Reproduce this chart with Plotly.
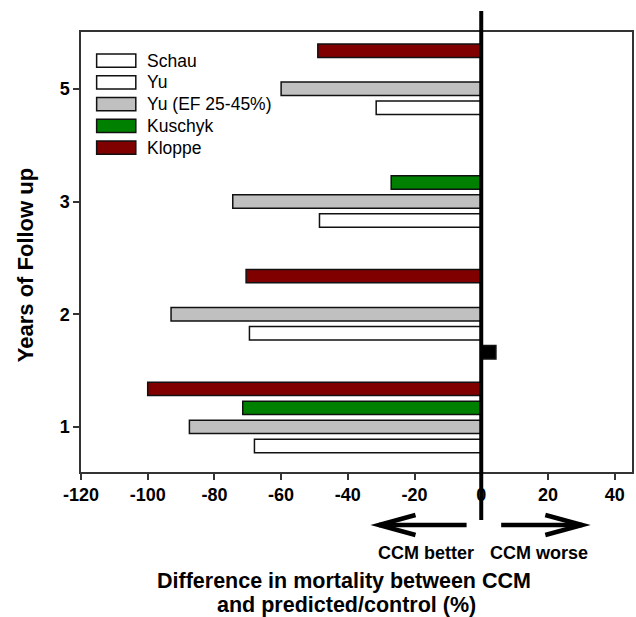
import plotly.graph_objects as go

# ---- data ----
years = ["1", "2", "3", "5"]
series_names = ["Schau", "Yu", "Yu (EF 25-45%)", "Kuschyk", "Kloppe"]
schau = [None, 4.4, None, None]
yu = [-68, -69.5, -48.5, -31.5]
yu_ef = [-87.5, -93, -74.5, -60]
kuschyk = [-71.5, None, -27, None]
kloppe = [-100, -70.5, None, -49]
series_values = [schau, yu, yu_ef, kuschyk, kloppe]
legend_colors = ["white", "white", "#c0c0c0", "#008000", "#800000"]
bar_colors = ["black", "white", "#c0c0c0", "#008000", "#800000"]
x_ticks = [-120, -100, -80, -60, -40, -20, 0, 20, 40]
x_ticktext = ["-120", "-100", "-80", "-60", "-40", "-20", "0", "20", "40"]

FONT = "Liberation Sans, Arial, sans-serif"
W, H = 636, 617
L, R, T, B = 81, 2, 32, 145
x_range = [-120, 45.2]
plot_w = W - L - R
plot_h = H - T - B

def px_to_x(px):
    return x_range[0] + (px - L) / plot_w * (x_range[1] - x_range[0])

def py_to_paper(py):
    return (H - B - py) / plot_h

def px_to_paper(px):
    return (px - L) / plot_w

fig = go.Figure()
for name, vals, col in zip(series_names, series_values, bar_colors):
    fig.add_trace(go.Bar(
        y=years, x=vals, orientation="h", name=name,
        marker=dict(color=col, line=dict(color="#111111", width=1.5)),
        showlegend=False, hoverinfo="x+name",
    ))

shapes = []
# thick zero line extending beyond plot
shapes.append(dict(type="line", xref="x", yref="paper", x0=0, x1=0,
                   y0=py_to_paper(520), y1=py_to_paper(11),
                   line=dict(color="black", width=4), layer="above"))

# arrows
ys = py_to_paper(525)
yw1 = py_to_paper(515)
yw2 = py_to_paper(535)
lx0, ltip, lw = px_to_x(468), px_to_x(380), px_to_x(416.7)
rx0, rtip, rw = px_to_x(502.7), px_to_x(584), px_to_x(547)
for a, tip, wing in [(lx0, ltip, lw), (rx0, rtip, rw)]:
    shapes.append(dict(type="line", xref="x", yref="paper", x0=a, x1=tip,
                       y0=ys, y1=ys, line=dict(color="black", width=4.5)))
    shapes.append(dict(type="path", xref="x", yref="paper",
                       path=f"M {wing},{yw1} L {tip},{ys} L {wing},{yw2}",
                       line=dict(color="black", width=4.5)))

annotations = []
# manual legend
for i, (name, col) in enumerate(zip(series_names, legend_colors)):
    cy = 60.7 + i * 21.75
    shapes.append(dict(type="rect", xref="paper", yref="paper",
                       x0=px_to_paper(96.7), x1=px_to_paper(136),
                       y0=py_to_paper(cy + 6.6), y1=py_to_paper(cy - 6.6),
                       fillcolor=col, line=dict(color="#111111", width=1.5)))
    annotations.append(dict(text=name, xref="paper", yref="paper",
                            x=px_to_paper(145), y=py_to_paper(cy),
                            xanchor="left", yanchor="middle", showarrow=False,
                            font=dict(family=FONT, size=17.5, color="black")))

annotations += [
    dict(text="<b>CCM better</b>", xref="x", yref="paper", x=px_to_x(427), y=py_to_paper(553),
         xanchor="center", yanchor="middle", showarrow=False,
         font=dict(family=FONT, size=18, color="black")),
    dict(text="<b>CCM worse</b>", xref="x", yref="paper", x=px_to_x(540.5), y=py_to_paper(553),
         xanchor="center", yanchor="middle", showarrow=False,
         font=dict(family=FONT, size=18, color="black")),
    dict(text="<b>Difference in mortality between CCM</b>", xref="paper", yref="paper",
         x=px_to_paper(345), y=py_to_paper(581), xanchor="center", yanchor="middle",
         showarrow=False, font=dict(family=FONT, size=21.5, color="black")),
    dict(text="<b>and predicted/control (%)</b>", xref="paper", yref="paper",
         x=px_to_paper(347), y=py_to_paper(605), xanchor="center", yanchor="middle",
         showarrow=False, font=dict(family=FONT, size=21.5, color="black")),
    dict(text="<b>Years of Follow up</b>", xref="paper", yref="paper",
         x=px_to_paper(25), y=py_to_paper(265), xanchor="center", yanchor="middle",
         textangle=-90, showarrow=False, font=dict(family=FONT, size=22, color="black")),
]

fig.update_layout(
    width=W, height=H,
    margin=dict(l=L, r=R, t=T, b=B, pad=0),
    paper_bgcolor="white", plot_bgcolor="white",
    barmode="group", bargap=0.156, bargroupgap=0.295,
    showlegend=False,
    shapes=shapes, annotations=annotations,
    font=dict(family=FONT, color="black"),
)
fig.update_xaxes(
    range=x_range, tickvals=x_ticks, ticktext=x_ticktext, ticks="outside", ticklen=6,
    tickwidth=1.5, tickcolor="#333333", showline=True, linecolor="#333333", linewidth=1.5,
    mirror=True, showgrid=False, zeroline=False,
    tickfont=dict(family=FONT, size=18, color="black", weight="bold"),
)
fig.update_yaxes(
    type="category", categoryorder="array", categoryarray=years,
    range=[-0.40, 3.504], ticks="outside", ticklen=6, tickwidth=1.5,
    tickcolor="#333333", showline=True, linecolor="#333333", linewidth=1.5,
    mirror=True, showgrid=False, zeroline=False,
    tickfont=dict(family=FONT, size=18, color="black", weight="bold"),
)

fig.write_html("out.html")
